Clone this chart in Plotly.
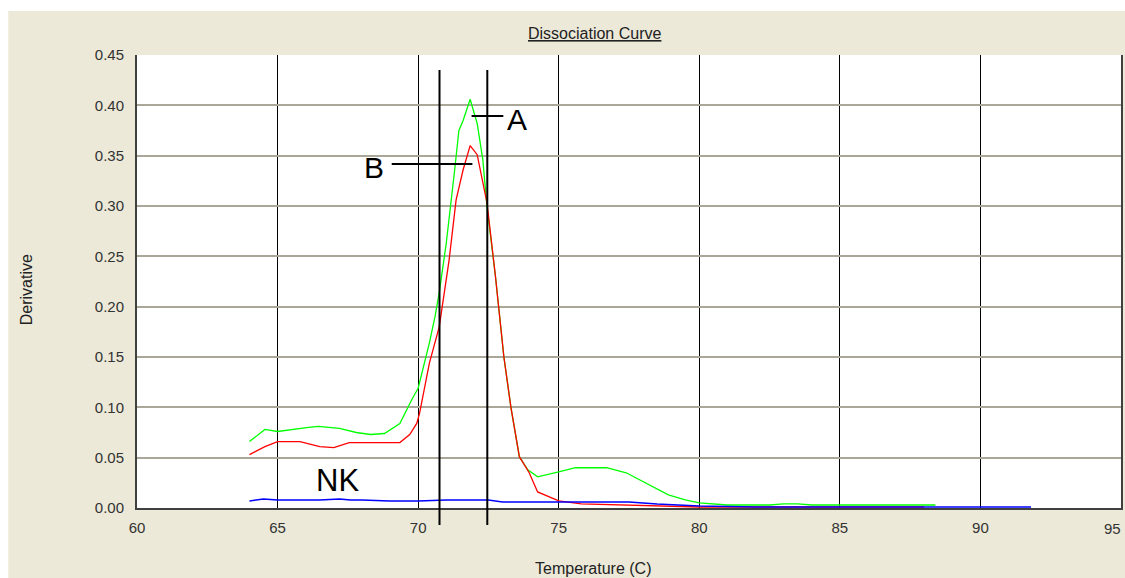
import plotly.graph_objects as go

# ---- data ----
green_x = [64.0, 64.55, 65.0, 65.5, 66.1, 66.45, 67.2, 67.8, 68.3, 68.8, 69.35, 69.8, 70.0, 70.4,
           70.6, 70.75, 71.0, 71.3, 71.45, 71.6, 71.85, 72.1, 72.3, 72.45, 72.75, 73.05, 73.3,
           73.6, 73.9, 74.25, 74.6, 75.0, 75.6, 76.7, 77.4, 78.2, 78.9, 79.5, 80.0, 81.0, 82.5,
           83.0, 83.5, 84.0, 85.0, 86.0, 87.0, 88.4]
green_y = [0.066, 0.078, 0.076, 0.078, 0.080, 0.081, 0.079, 0.075, 0.073, 0.074, 0.084, 0.109,
           0.119, 0.164, 0.190, 0.214, 0.263, 0.336, 0.375, 0.385, 0.406, 0.382, 0.346, 0.299,
           0.230, 0.150, 0.100, 0.051, 0.038, 0.031, 0.033, 0.036, 0.040, 0.040, 0.035, 0.023,
           0.013, 0.008, 0.005, 0.003, 0.003, 0.004, 0.004, 0.003, 0.003, 0.003, 0.003, 0.003]

red_x = [64.0, 64.55, 65.0, 65.8, 66.5, 67.0, 67.55, 68.75, 69.35, 69.7, 69.95, 70.05, 70.4,
         70.75, 71.1, 71.35, 71.6, 71.85, 72.1, 72.45, 72.75, 73.05, 73.3, 73.6, 73.95, 74.25,
         74.75, 75.0, 75.8, 77.6, 78.5, 80.0, 82.0, 84.0, 86.0, 88.0]
red_y = [0.053, 0.061, 0.066, 0.066, 0.061, 0.060, 0.065, 0.065, 0.065, 0.073, 0.084, 0.094,
         0.144, 0.180, 0.246, 0.306, 0.336, 0.360, 0.351, 0.303, 0.230, 0.150, 0.100, 0.051,
         0.035, 0.016, 0.010, 0.007, 0.004, 0.003, 0.002, 0.001, 0.001, 0.001, 0.001, 0.001]

blue_x = [64.0, 64.5, 65.0, 66.5, 67.2, 67.6, 68.0, 69.0, 70.0, 71.0, 72.5, 73.0, 75.0, 77.5,
          78.5, 80.0, 82.0, 85.0, 88.0, 91.8]
blue_y = [0.007, 0.009, 0.008, 0.008, 0.009, 0.008, 0.008, 0.007, 0.007, 0.008, 0.008, 0.006,
          0.006, 0.006, 0.004, 0.002, 0.001, 0.001, 0.001, 0.001]

x_ticks = [60, 65, 70, 75, 80, 85, 90, 95]
y_ticks = [0.00, 0.05, 0.10, 0.15, 0.20, 0.25, 0.30, 0.35, 0.40, 0.45]

marker_lines = [70.76, 72.46]
marker_labels = ["71,5", "73,5"]
marker_label_x = [69.98, 72.14]

BG = "#ECE9D8"
FONT = "Liberation Sans, Arial, sans-serif"

fig = go.Figure()
fig.add_trace(go.Scatter(x=green_x, y=green_y, mode="lines",
                         line=dict(color="#00FF00", width=1.3), showlegend=False))
fig.add_trace(go.Scatter(x=red_x, y=red_y, mode="lines",
                         line=dict(color="#FF0000", width=1.3), showlegend=False))
fig.add_trace(go.Scatter(x=blue_x, y=blue_y, mode="lines",
                         line=dict(color="#0000FF", width=1.6), showlegend=False))

shapes = []
# white margins top-left of the window
shapes.append(dict(type="rect", xref="paper", yref="paper", x0=-0.2, x1=(8 - 137) / 986,
                   y0=-0.3, y1=1.3, fillcolor="white", line=dict(width=0), layer="below"))
shapes.append(dict(type="rect", xref="paper", yref="paper", x0=-0.2, x1=1.2,
                   y0=(508 - 11) / 453, y1=1.3, fillcolor="white", line=dict(width=0), layer="below"))
for mx in marker_lines:
    shapes.append(dict(type="line", xref="x", yref="paper", x0=mx, x1=mx,
                       y0=(508 - 525) / 453, y1=(508 - 70) / 453,
                       line=dict(color="black", width=2)))
# A and B pointer lines
shapes.append(dict(type="line", xref="x", yref="y", x0=71.90, x1=73.03, y0=0.3894, y1=0.3894,
                   line=dict(color="black", width=2)))
shapes.append(dict(type="line", xref="x", yref="y", x0=69.06, x1=71.93, y0=0.3417, y1=0.3417,
                   line=dict(color="black", width=2)))

annotations = [
    dict(text="<u>Dissociation Curve</u>", xref="paper", yref="paper",
         x=(595 - 137) / 986, y=(508 - 34) / 453, xanchor="center", yanchor="middle",
         showarrow=False, font=dict(family=FONT, size=16, color="#222")),
    dict(text="Temperature (C)", xref="paper", yref="paper",
         x=(594 - 137) / 986, y=(508 - 568) / 453, xanchor="center", yanchor="middle",
         showarrow=False, font=dict(family=FONT, size=16, color="#222")),
    dict(text="Derivative", xref="paper", yref="paper", textangle=-90,
         x=(26 - 137) / 986, y=(508 - 290) / 453, xanchor="center", yanchor="middle",
         showarrow=False, font=dict(family=FONT, size=16, color="#222")),
    dict(text="A", x=73.51, y=0.3857, showarrow=False,
         font=dict(family=FONT, size=30, color="black")),
    dict(text="B", x=68.42, y=0.338, showarrow=False,
         font=dict(family=FONT, size=30, color="black")),
    dict(text="NK", x=67.12, y=0.0278, showarrow=False,
         font=dict(family=FONT, size=31, color="black")),
    # last x tick label, kept inside the page edge
    dict(text=str(x_ticks[-1]), x=x_ticks[-1], y=0, yshift=-20, xanchor="right", xshift=2,
         showarrow=False, font=dict(family=FONT, size=15, color="#333")),
]
for lx, lt in zip(marker_label_x, marker_labels):
    annotations.append(dict(text=lt, x=lx, y=-0.0397, showarrow=False,
                            font=dict(family=FONT, size=24, color="black")))

fig.update_layout(
    width=1125, height=578, autosize=False,
    margin=dict(l=137, r=2, t=55, b=70),
    paper_bgcolor=BG, plot_bgcolor="white",
    shapes=shapes, annotations=annotations,
    xaxis=dict(range=[60, 95], tickvals=x_ticks[:-1], ticktext=[str(v) for v in x_ticks[:-1]],
               showgrid=True, gridcolor="#000000", gridwidth=1,
               showline=True, linecolor="#404040", linewidth=2,
               ticks="outside", ticklen=5, tickcolor="rgba(0,0,0,0)",
               tickfont=dict(family=FONT, size=15, color="#333"), zeroline=False, fixedrange=True),
    yaxis=dict(range=[0, 0.45], tickvals=y_ticks, ticktext=[f"{v:.2f}" for v in y_ticks],
               showgrid=True, gridcolor="#AAA698", gridwidth=1.5,
               showline=True, linecolor="#404040", linewidth=2, mirror=True,
               ticks="outside", ticklen=8, tickcolor="rgba(0,0,0,0)",
               tickfont=dict(family=FONT, size=15, color="#333"), zeroline=False, fixedrange=True),
)

post = ("document.body.style.margin='0';document.body.style.padding='0';"
        "document.body.style.overflow='hidden';"
        "document.documentElement.style.overflow='hidden';")
fig.write_html("out.html", config={"responsive": False, "displayModeBar": False},
               post_script=post)
